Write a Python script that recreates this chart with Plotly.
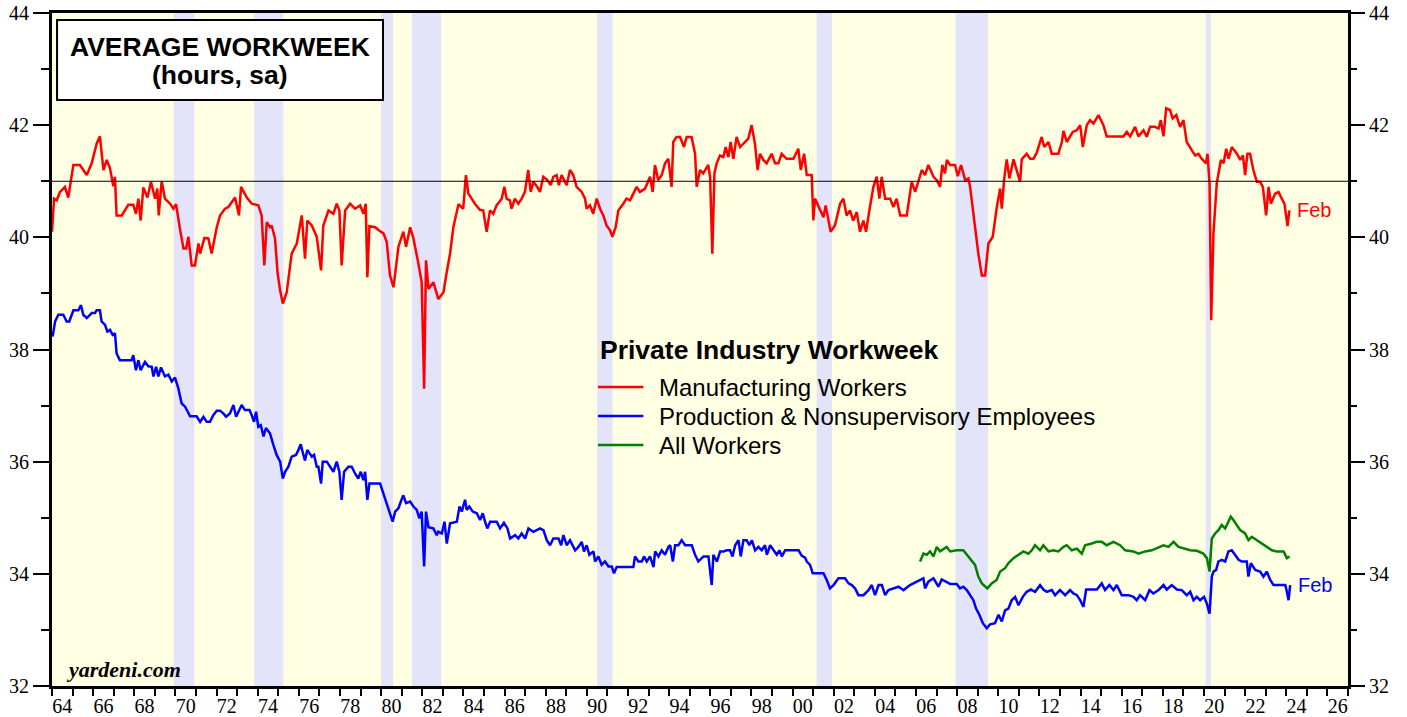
import plotly.graph_objects as go

# ---------------- data ----------------
mfg_dates = [1964.0, 1964.1, 1964.23, 1964.39, 1964.63, 1964.79, 1965.04, 1965.36, 1965.52, 1965.69, 1965.93,
             1966.17, 1966.33, 1966.5, 1966.66, 1966.82, 1966.98, 1967.06, 1967.14, 1967.39, 1967.71, 1967.95,
             1968.08, 1968.2, 1968.31, 1968.44, 1968.64, 1968.81, 1969.01, 1969.12, 1969.19, 1969.33, 1969.49,
             1969.74, 1969.9, 1970.03, 1970.22, 1970.39, 1970.52, 1970.63, 1970.79, 1970.95, 1971.12, 1971.2,
             1971.41, 1971.6, 1971.76, 1972.01, 1972.17, 1972.41, 1972.57, 1972.9, 1973.09, 1973.19, 1973.47,
             1973.71, 1974.03, 1974.19, 1974.32, 1974.44, 1974.6, 1974.68, 1974.84, 1974.97, 1975.09, 1975.22,
             1975.41, 1975.65, 1975.9, 1976.14, 1976.3, 1976.41, 1976.63, 1976.87, 1977.08, 1977.19, 1977.44,
             1977.68, 1977.84, 1977.97, 1978.08, 1978.25, 1978.49, 1978.73, 1978.98, 1979.14, 1979.25, 1979.33,
             1979.43, 1979.71, 1979.87, 1980.11, 1980.27, 1980.43, 1980.6, 1980.84, 1981.08, 1981.21, 1981.41,
             1981.57, 1981.78, 1981.97, 1982.09, 1982.18, 1982.3, 1982.54, 1982.78, 1983.03, 1983.16, 1983.35,
             1983.51, 1983.76, 1983.99, 1984.12, 1984.24, 1984.4, 1984.56, 1984.8, 1984.96, 1985.13, 1985.29,
             1985.45, 1985.61, 1985.86, 1985.99, 1986.1, 1986.26, 1986.34, 1986.5, 1986.67, 1986.83, 1986.99,
             1987.15, 1987.27, 1987.4, 1987.59, 1987.72, 1987.88, 1988.08, 1988.24, 1988.37, 1988.53, 1988.64,
             1988.77, 1989.02, 1989.18, 1989.34, 1989.5, 1989.75, 1989.91, 1989.99, 1990.15, 1990.31, 1990.48,
             1990.64, 1990.8, 1990.96, 1991.12, 1991.24, 1991.4, 1991.53, 1991.77, 1991.93, 1992.1, 1992.26,
             1992.42, 1992.58, 1992.83, 1993.07, 1993.2, 1993.31, 1993.47, 1993.64, 1993.8, 1993.96, 1994.12,
             1994.2, 1994.36, 1994.53, 1994.72, 1994.85, 1995.09, 1995.26, 1995.34, 1995.5, 1995.66, 1995.9,
             1995.99, 1996.1, 1996.2, 1996.31, 1996.47, 1996.63, 1996.75, 1996.88, 1996.99, 1997.12, 1997.28,
             1997.45, 1997.61, 1997.85, 1998.01, 1998.17, 1998.3, 1998.42, 1998.58, 1998.74, 1998.98, 1999.15,
             1999.31, 1999.47, 1999.71, 2000.04, 2000.28, 2000.4, 2000.56, 2000.69, 2000.93, 2001.01, 2001.09,
             2001.33, 2001.5, 2001.61, 2001.85, 2002.06, 2002.31, 2002.47, 2002.63, 2002.79, 2002.95, 2003.12,
             2003.28, 2003.44, 2003.57, 2003.76, 2003.93, 2004.09, 2004.22, 2004.33, 2004.5, 2004.74, 2004.9,
             2005.06, 2005.23, 2005.55, 2005.79, 2005.96, 2006.28, 2006.44, 2006.6, 2006.85, 2007.01, 2007.17,
             2007.28, 2007.41, 2007.5, 2007.66, 2007.9, 2008.03, 2008.19, 2008.39, 2008.55, 2008.63, 2008.76,
             2008.87, 2009.03, 2009.2, 2009.36, 2009.52, 2009.73, 2009.93, 2010.09, 2010.17, 2010.28, 2010.41,
             2010.54, 2010.74, 2010.9, 2011.06, 2011.14, 2011.38, 2011.55, 2011.71, 2011.87, 2012.11, 2012.23,
             2012.44, 2012.6, 2012.92, 2013.09, 2013.17, 2013.33, 2013.49, 2013.62, 2013.82, 2013.98, 2014.11,
             2014.3, 2014.46, 2014.63, 2014.87, 2015.11, 2015.27, 2016.08, 2016.25, 2016.41, 2016.65, 2016.81,
             2017.06, 2017.22, 2017.38, 2017.62, 2017.79, 2017.9, 2018.03, 2018.16, 2018.35, 2018.48, 2018.65,
             2018.84, 2019.0, 2019.16, 2019.41, 2019.57, 2019.73, 2019.89, 2020.1, 2020.17, 2020.27, 2020.35,
             2020.46, 2020.62, 2020.82, 2020.95, 2021.08, 2021.19, 2021.35, 2021.6, 2021.76, 2021.89, 2022.0,
             2022.11, 2022.24, 2022.4, 2022.57, 2022.73, 2022.86, 2023.02, 2023.14, 2023.25, 2023.46, 2023.62,
             2023.78, 2023.91, 2024.06, 2024.15]
mfg_values = [40.1, 40.69, 40.66, 40.81, 40.9, 40.71, 41.29, 41.29, 41.2, 41.11, 41.32,
              41.67, 41.8, 41.2, 41.38, 41.23, 40.91, 41.08, 40.39, 40.39, 40.58, 40.58,
              40.42, 40.69, 40.3, 40.89, 40.71, 40.99, 40.69, 40.87, 40.39, 41.0, 40.69,
              40.6, 40.51, 40.59, 40.15, 39.8, 39.8, 40.01, 39.5, 39.5, 39.89, 39.71,
              39.99, 39.98, 39.71, 40.18, 40.39, 40.51, 40.54, 40.71, 40.39, 40.9, 40.71,
              40.6, 40.57, 40.39, 39.5, 40.27, 40.18, 40.21, 39.98, 39.35, 39.05, 38.82,
              39.02, 39.71, 39.89, 40.39, 39.62, 40.3, 40.21, 40.01, 39.41, 40.21, 40.48,
              40.42, 40.6, 40.48, 39.5, 40.48, 40.6, 40.51, 40.57, 40.42, 40.6, 39.29,
              40.2, 40.18, 40.13, 40.07, 39.92, 39.32, 39.11, 39.83, 40.1, 39.83, 40.18,
              39.98, 39.59, 39.2, 37.3, 39.59, 39.08, 39.2, 38.9, 39.02, 39.32, 39.71,
              40.18, 40.59, 40.51, 41.11, 40.78, 40.69, 40.6, 40.49, 40.48, 40.1, 40.48,
              40.42, 40.57, 40.69, 40.9, 40.69, 40.66, 40.51, 40.69, 40.6, 40.69, 40.81,
              41.2, 40.81, 40.99, 40.9, 40.81, 41.08, 41.02, 40.93, 41.08, 41.11, 40.93,
              41.11, 40.93, 41.2, 41.11, 40.9, 40.81, 40.69, 40.51, 40.57, 40.42, 40.69,
              40.51, 40.39, 40.21, 40.13, 40.01, 40.18, 40.48, 40.6, 40.69, 40.66, 40.78,
              40.9, 40.81, 40.87, 41.08, 40.81, 41.29, 41.02, 41.11, 41.32, 41.4, 40.9,
              41.7, 41.79, 41.79, 41.61, 41.79, 41.79, 41.49, 40.9, 41.2, 41.14, 41.29,
              41.08, 39.71, 41.14, 41.32, 41.46, 41.43, 41.61, 41.43, 41.7, 41.4, 41.79,
              41.61, 41.67, 41.76, 42.0, 41.67, 41.2, 41.49, 41.38, 41.32, 41.49, 41.32,
              41.32, 41.49, 41.4, 41.4, 41.58, 41.2, 41.49, 41.11, 41.11, 40.3, 40.69,
              40.48, 40.36, 40.57, 40.1, 40.21, 40.6, 40.69, 40.39, 40.48, 40.3, 40.45,
              40.1, 40.3, 40.1, 40.54, 40.9, 41.08, 40.69, 41.08, 40.69, 40.69, 40.54,
              40.69, 40.39, 40.39, 40.99, 40.81, 41.2, 41.11, 41.29, 41.08, 41.02, 40.9,
              41.29, 41.14, 41.38, 41.29, 41.29, 41.09, 41.29, 41.02, 41.05, 40.9, 40.51,
              40.13, 39.71, 39.32, 39.32, 39.89, 40.01, 40.54, 40.87, 40.51, 41.02, 41.39,
              41.05, 41.39, 41.2, 40.99, 41.39, 41.49, 41.4, 41.4, 41.51, 41.79, 41.61,
              41.7, 41.49, 41.49, 41.7, 41.9, 41.7, 41.79, 41.88, 41.91, 42.0, 41.61,
              42.0, 42.09, 42.03, 42.18, 42.0, 41.8, 41.8, 41.88, 41.8, 41.97, 41.8,
              41.91, 41.79, 41.97, 41.97, 41.94, 42.09, 41.8, 42.3, 42.27, 42.12, 42.18,
              41.97, 42.09, 41.7, 41.55, 41.46, 41.49, 41.4, 41.32, 41.49, 40.96, 38.52,
              40.07, 40.96, 41.38, 41.32, 41.58, 41.4, 41.61, 41.49, 41.38, 41.46, 41.11,
              41.49, 41.49, 41.2, 40.99, 40.99, 40.9, 40.39, 40.9, 40.6, 40.78, 40.81,
              40.69, 40.6, 40.2, 40.48]

prod_dates = [1964.03, 1964.15, 1964.31, 1964.55, 1964.71, 1964.84, 1965.04, 1965.28, 1965.41, 1965.52, 1965.69,
              1965.82, 1965.93, 1966.09, 1966.17, 1966.33, 1966.41, 1966.58, 1966.69, 1966.82, 1966.95, 1967.06,
              1967.14, 1967.3, 1967.87, 1967.95, 1968.08, 1968.2, 1968.31, 1968.52, 1968.68, 1968.85, 1968.93,
              1969.06, 1969.17, 1969.3, 1969.49, 1969.66, 1969.82, 1969.98, 1970.14, 1970.3, 1970.47, 1970.6,
              1970.71, 1971.03, 1971.2, 1971.36, 1971.52, 1971.68, 1971.84, 1972.01, 1972.17, 1972.33, 1972.46,
              1972.65, 1972.82, 1972.95, 1973.06, 1973.22, 1973.38, 1973.6, 1973.71, 1973.82, 1973.92, 1974.03,
              1974.15, 1974.28, 1974.4, 1974.6, 1974.76, 1974.92, 1975.09, 1975.22, 1975.33, 1975.49, 1975.65,
              1975.86, 1975.98, 1976.09, 1976.22, 1976.3, 1976.41, 1976.63, 1976.74, 1976.87, 1976.95, 1977.08,
              1977.16, 1977.36, 1977.52, 1977.68, 1977.84, 1977.97, 1978.08, 1978.2, 1978.41, 1978.57, 1978.73,
              1978.89, 1979.01, 1979.14, 1979.22, 1979.33, 1979.43, 1979.95, 1980.11, 1980.27, 1980.43, 1980.56,
              1980.68, 1980.84, 1981.0, 1981.08, 1981.21, 1981.41, 1981.57, 1981.73, 1981.86, 1981.97, 1982.09,
              1982.18, 1982.3, 1982.54, 1982.7, 1982.78, 1982.95, 1983.08, 1983.19, 1983.35, 1983.68, 1983.81,
              1983.92, 1984.08, 1984.16, 1984.29, 1984.45, 1984.65, 1984.81, 1984.94, 1985.05, 1985.16, 1985.3,
              1985.62, 1985.78, 1985.97, 1986.14, 1986.27, 1986.51, 1986.67, 1986.83, 1987.0, 1987.16, 1987.4,
              1987.56, 1987.72, 1987.89, 1988.05, 1988.21, 1988.37, 1988.62, 1988.75, 1988.86, 1989.02, 1989.18,
              1989.43, 1989.59, 1989.75, 1989.86, 1989.99, 1990.12, 1990.32, 1990.4, 1990.56, 1990.72, 1990.88,
              1991.05, 1991.21, 1991.32, 1991.45, 1992.26, 1992.34, 1992.51, 1992.67, 1992.78, 1992.91, 1993.07,
              1993.24, 1993.32, 1993.48, 1993.64, 1993.8, 1993.96, 1994.05, 1994.18, 1994.29, 1994.45, 1994.61,
              1994.78, 1995.1, 1995.26, 1995.42, 1995.67, 1995.91, 1996.07, 1996.15, 1996.32, 1996.48, 1996.64,
              1996.8, 1996.96, 1997.08, 1997.21, 1997.37, 1997.48, 1997.61, 1997.77, 1997.9, 1998.02, 1998.18,
              1998.34, 1998.5, 1998.66, 1998.75, 1998.91, 1999.07, 1999.23, 1999.36, 1999.48, 1999.64, 1999.88,
              2000.29, 2000.45, 2000.61, 2000.69, 2000.85, 2000.98, 2001.17, 2001.5, 2001.66, 2001.82, 2001.99,
              2002.23, 2002.55, 2002.72, 2002.88, 2003.04, 2003.2, 2003.45, 2003.69, 2003.85, 2004.01, 2004.18,
              2004.34, 2004.5, 2004.66, 2004.9, 2005.15, 2005.39, 2005.71, 2006.04, 2006.36, 2006.44, 2006.6,
              2006.85, 2007.09, 2007.25, 2007.49, 2007.66, 2007.98, 2008.14, 2008.3, 2008.47, 2008.63, 2008.79,
              2008.92, 2009.08, 2009.25, 2009.44, 2009.6, 2009.84, 2010.01, 2010.17, 2010.33, 2010.49, 2010.65,
              2010.82, 2010.98, 2011.19, 2011.38, 2011.58, 2011.79, 2012.03, 2012.19, 2012.36, 2012.6, 2012.76,
              2013.0, 2013.25, 2013.49, 2013.65, 2013.82, 2013.98, 2014.14, 2014.27, 2014.54, 2014.79, 2015.03,
              2015.19, 2015.4, 2015.6, 2015.76, 2016.0, 2016.33, 2016.57, 2016.73, 2016.89, 2017.14, 2017.35,
              2017.54, 2017.79, 2018.03, 2018.19, 2018.43, 2018.68, 2018.92, 2019.16, 2019.33, 2019.49, 2019.65,
              2019.81, 2020.0, 2020.14, 2020.27, 2020.38, 2020.46, 2020.59, 2020.7, 2020.86, 2021.03, 2021.19,
              2021.35, 2021.52, 2021.68, 2021.84, 2022.08, 2022.16, 2022.28, 2022.49, 2022.73, 2022.89, 2023.05,
              2023.22, 2023.38, 2023.7, 2023.95, 2024.03, 2024.11, 2024.19]
prod_values = [38.23, 38.5, 38.62, 38.62, 38.5, 38.5, 38.7, 38.7, 38.79, 38.62, 38.56,
               38.62, 38.65, 38.65, 38.7, 38.7, 38.5, 38.44, 38.32, 38.35, 38.26, 38.29,
               37.93, 37.81, 37.81, 37.9, 37.63, 37.81, 37.63, 37.78, 37.7, 37.69, 37.52,
               37.69, 37.52, 37.68, 37.52, 37.55, 37.43, 37.5, 37.31, 37.04, 36.98, 36.89,
               36.81, 36.81, 36.71, 36.8, 36.71, 36.71, 36.83, 36.91, 36.91, 36.86, 36.8,
               36.86, 37.01, 36.8, 36.89, 37.01, 36.92, 36.92, 36.83, 36.71, 36.89, 36.62,
               36.65, 36.45, 36.6, 36.5, 36.3, 36.12, 36.0, 35.7, 35.82, 35.91, 36.09,
               36.12, 36.21, 36.31, 36.12, 36.02, 36.21, 36.09, 36.12, 35.91, 35.91, 35.61,
               36.0, 36.0, 35.91, 35.82, 36.0, 35.82, 35.32, 35.82, 35.91, 35.91, 35.79,
               35.7, 35.82, 35.67, 35.82, 35.32, 35.61, 35.61, 35.43, 35.26, 35.08, 34.93,
               35.11, 35.17, 35.33, 35.4, 35.26, 35.29, 35.2, 35.14, 34.99, 35.11, 34.13,
               35.11, 34.83, 34.81, 34.69, 34.75, 34.72, 34.93, 34.54, 34.9, 34.93, 35.2,
               35.11, 35.32, 35.14, 35.2, 35.11, 35.08, 34.96, 35.08, 34.93, 34.81, 34.93,
               34.93, 34.81, 34.91, 34.81, 34.63, 34.69, 34.63, 34.72, 34.63, 34.81, 34.75,
               34.78, 34.81, 34.78, 34.6, 34.51, 34.63, 34.63, 34.51, 34.69, 34.51, 34.6,
               34.42, 34.48, 34.57, 34.4, 34.51, 34.34, 34.4, 34.22, 34.31, 34.16, 34.22,
               34.13, 34.13, 34.01, 34.12, 34.12, 34.31, 34.22, 34.22, 34.31, 34.22, 34.31,
               34.12, 34.4, 34.31, 34.42, 34.34, 34.48, 34.51, 34.22, 34.51, 34.51, 34.6,
               34.51, 34.51, 34.34, 34.22, 34.31, 34.31, 33.8, 34.34, 34.22, 34.4, 34.4,
               34.42, 34.42, 34.31, 34.51, 34.6, 34.31, 34.6, 34.6, 34.51, 34.6, 34.42,
               34.48, 34.42, 34.51, 34.34, 34.51, 34.42, 34.34, 34.42, 34.31, 34.42, 34.42,
               34.42, 34.32, 34.29, 34.22, 34.16, 34.01, 34.01, 34.01, 33.89, 33.74, 33.8,
               33.92, 33.92, 33.83, 33.8, 33.74, 33.62, 33.62, 33.71, 33.8, 33.62, 33.8,
               33.8, 33.62, 33.71, 33.74, 33.77, 33.71, 33.8, 33.86, 33.92, 33.74, 33.86,
               33.92, 33.77, 33.9, 33.86, 33.82, 33.82, 33.74, 33.77, 33.71, 33.62, 33.53,
               33.38, 33.27, 33.12, 33.03, 33.1, 33.12, 33.27, 33.15, 33.35, 33.38, 33.53,
               33.59, 33.44, 33.59, 33.68, 33.72, 33.68, 33.8, 33.72, 33.68, 33.71, 33.62,
               33.71, 33.62, 33.71, 33.65, 33.62, 33.53, 33.41, 33.72, 33.72, 33.72, 33.83,
               33.71, 33.8, 33.71, 33.8, 33.62, 33.62, 33.59, 33.53, 33.62, 33.53, 33.71,
               33.65, 33.71, 33.8, 33.72, 33.8, 33.72, 33.71, 33.62, 33.68, 33.53, 33.59,
               33.53, 33.59, 33.47, 33.29, 33.95, 34.04, 34.07, 34.22, 34.25, 34.22, 34.4,
               34.42, 34.34, 34.25, 34.22, 34.22, 33.95, 34.19, 34.07, 34.04, 33.95, 34.04,
               33.89, 33.8, 33.8, 33.8, 33.68, 33.53, 33.8]

all_dates = [2006.2, 2006.36, 2006.52, 2006.68, 2006.85, 2007.01, 2007.17, 2007.49, 2007.66, 2007.98, 2008.3,
             2008.55, 2008.71, 2008.87, 2009.03, 2009.2, 2009.47, 2009.68, 2009.92, 2010.09, 2010.33, 2010.49,
             2010.74, 2010.98, 2011.22, 2011.46, 2011.63, 2011.79, 2012.03, 2012.19, 2012.44, 2012.68, 2012.92,
             2013.17, 2013.33, 2013.57, 2013.82, 2014.06, 2014.22, 2014.54, 2014.79, 2015.03, 2015.27, 2015.6,
             2015.92, 2016.17, 2016.57, 2016.81, 2017.14, 2017.46, 2017.79, 2018.03, 2018.27, 2018.52, 2018.76,
             2019.0, 2019.33, 2019.65, 2019.97, 2020.14, 2020.27, 2020.38, 2020.54, 2020.7, 2020.86, 2021.03,
             2021.19, 2021.3, 2021.43, 2021.59, 2021.76, 2022.0, 2022.16, 2022.32, 2022.57, 2022.81, 2023.05,
             2023.3, 2023.54, 2023.87, 2024.03, 2024.16]
all_values = [34.22, 34.36, 34.34, 34.4, 34.31, 34.48, 34.4, 34.48, 34.4, 34.42, 34.42,
              34.31, 34.25, 34.16, 33.95, 33.83, 33.74, 33.83, 33.89, 34.04, 34.1, 34.19,
              34.28, 34.34, 34.4, 34.36, 34.42, 34.51, 34.42, 34.51, 34.4, 34.42, 34.4,
              34.48, 34.51, 34.42, 34.45, 34.36, 34.51, 34.54, 34.57, 34.57, 34.51, 34.57,
              34.51, 34.42, 34.4, 34.36, 34.4, 34.42, 34.48, 34.51, 34.48, 34.57, 34.48,
              34.45, 34.42, 34.41, 34.36, 34.28, 34.04, 34.63, 34.72, 34.78, 34.87, 34.81,
              34.93, 35.02, 34.96, 34.87, 34.78, 34.72, 34.6, 34.66, 34.6, 34.54, 34.48,
              34.42, 34.4, 34.4, 34.28, 34.31]

recession_starts = [1969.92, 1973.83, 1980.0, 1981.5, 1990.5, 2001.17, 2007.92, 2020.08]
recession_ends = [1970.92, 1975.25, 1980.58, 1982.92, 1991.25, 2001.92, 2009.5, 2020.33]

x_tick_years = list(range(1964, 2027, 2))
x_tick_labels = [f"{y % 100:02d}" for y in x_tick_years]

series_names = ["Manufacturing Workers", "Production & Nonsupervisory Employees", "All Workers"]
series_colors = ["#FF0000", "#0000FF", "#008000"]
legend_title = "Private Industry Workweek"

# ---------------- figure ----------------
SERIF = "Liberation Serif, Times New Roman, serif"
SANS = "Liberation Sans, Arial, sans-serif"

fig = go.Figure()
fig.add_trace(go.Scatter(x=mfg_dates, y=mfg_values, mode="lines", name=series_names[0],
                         line=dict(color=series_colors[0], width=2.5)))
fig.add_trace(go.Scatter(x=prod_dates, y=prod_values, mode="lines", name=series_names[1],
                         line=dict(color=series_colors[1], width=2.5)))
fig.add_trace(go.Scatter(x=all_dates, y=all_values, mode="lines", name=series_names[2],
                         line=dict(color=series_colors[2], width=2.5), yaxis="y2"))

shapes = []
for s, e in zip(recession_starts, recession_ends):
    shapes.append(dict(type="rect", xref="x", yref="paper", x0=s, x1=e, y0=0, y1=1,
                       fillcolor="#E3E3FA", line=dict(width=0), layer="below"))
shapes.append(dict(type="line", xref="paper", yref="y", x0=0, x1=1, y0=41, y1=41,
                   line=dict(color="black", width=1)))
# title box
shapes.append(dict(type="rect", xref="paper", yref="paper", x0=0.0039, x1=0.2554, y0=0.8707, y1=0.9896,
                   fillcolor="white", line=dict(color="black", width=2)))

annotations = [
    dict(text="<b>AVERAGE WORKWEEK</b>", xref="paper", yref="paper", x=0.1296, y=0.9495,
         xanchor="center", yanchor="middle", showarrow=False, font=dict(family=SANS, size=26.5, color="black")),
    dict(text="<b>(hours, sa)</b>", xref="paper", yref="paper", x=0.1296, y=0.9079,
         xanchor="center", yanchor="middle", showarrow=False, font=dict(family=SANS, size=26.5, color="black")),
    dict(text="<b><i>yardeni.com</i></b>", xref="paper", yref="paper", x=0.0095, y=0.025,
         xanchor="left", yanchor="middle", showarrow=False, font=dict(family=SERIF, size=22, color="black")),
    dict(text="Feb", x=mfg_dates[-1], y=mfg_values[-1], xref="x", yref="y", xanchor="left",
         yanchor="middle", xshift=6, showarrow=False, font=dict(family=SANS, size=20, color=series_colors[0])),
    dict(text="Feb", x=prod_dates[-1], y=prod_values[-1], xref="x", yref="y", xanchor="left",
         yanchor="middle", xshift=6, showarrow=False, font=dict(family=SANS, size=20, color=series_colors[1])),
]

# legend (built from the series names / colours)
leg_x_line0, leg_x_line1, leg_x_text = 0.4213, 0.4563, 0.4668
leg_title_y = 1 - (350 - 13) / 673
annotations.append(dict(text=f"<b>{legend_title}</b>", xref="paper", yref="paper", x=0.4213, y=leg_title_y,
                        xanchor="left", yanchor="middle", showarrow=False,
                        font=dict(family=SANS, size=26.5, color="black")))
for i, (name, color) in enumerate(zip(series_names, series_colors)):
    yy = 1 - (387 + 29 * i - 13) / 673
    shapes.append(dict(type="line", xref="paper", yref="paper", x0=leg_x_line0, x1=leg_x_line1, y0=yy, y1=yy,
                       line=dict(color=color, width=2.5)))
    annotations.append(dict(text=name, xref="paper", yref="paper", x=leg_x_text, y=yy,
                            xanchor="left", yanchor="middle", showarrow=False,
                            font=dict(family=SANS, size=24, color="black")))

fig.update_layout(
    width=1407, height=717,
    margin=dict(l=52, r=59, t=13, b=31, autoexpand=False),
    paper_bgcolor="white",
    plot_bgcolor="#FFFFE3",
    showlegend=False,
    shapes=shapes,
    annotations=annotations,
    xaxis=dict(range=[1964, 2027], showgrid=False, zeroline=False, automargin=False,
               showline=True, linecolor="black", linewidth=3, mirror=True,
               tickmode="array", tickvals=[y + 0.5 for y in x_tick_years], ticktext=x_tick_labels,
               ticks="", tickfont=dict(family=SERIF, size=20, color="black"),
               minor=dict(tickvals=list(range(1964, 2028)), ticks="outside", ticklen=7, tickwidth=2,
                          tickcolor="black", showgrid=False)),
    yaxis=dict(range=[32, 44], showgrid=False, zeroline=False, automargin=False,
               showline=True, linecolor="black", linewidth=3, mirror=True,
               tickmode="array", tickvals=list(range(32, 45, 2)),
               ticks="outside", ticklen=16, tickwidth=1.5, tickcolor="black",
               tickfont=dict(family=SERIF, size=20, color="black"),
               minor=dict(tickvals=list(range(33, 44, 2)), ticks="outside", ticklen=8, tickwidth=1.5,
                          tickcolor="black", showgrid=False)),
    yaxis2=dict(range=[32, 44], overlaying="y", side="right", showgrid=False, zeroline=False,
                automargin=False, showline=False, tickmode="array", tickvals=list(range(32, 45, 2)),
                ticks="outside", ticklen=16, tickwidth=1.5, tickcolor="black",
                tickfont=dict(family=SERIF, size=20, color="black"),
                minor=dict(tickvals=list(range(33, 44, 2)), ticks="outside", ticklen=8, tickwidth=1.5,
                           tickcolor="black", showgrid=False)),
)

fig.write_html("out.html", config={"displayModeBar": False},
               post_script="document.body.style.margin='0';document.body.style.overflow='hidden';")
